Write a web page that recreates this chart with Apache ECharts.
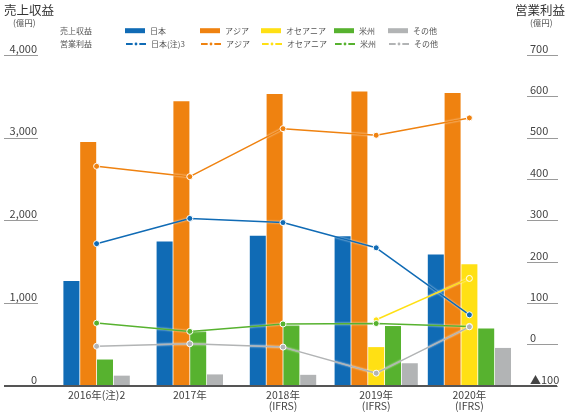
<!DOCTYPE html>
<html>
<head>
<meta charset="utf-8">
<script src="https://cdn.jsdelivr.net/npm/echarts@6/dist/echarts.min.js"></script>
<style>
  html, body { margin: 0; padding: 0; background: #fff; }
  #chart { width: 567px; height: 414px; }
</style>
</head>
<body>
<div id="chart"></div>
<script>
// ===== データ =====
const years = ['2016年(注)2', '2017年', '2018年\n(IFRS)', '2019年\n(IFRS)', '2020年\n(IFRS)'];

// 売上収益（億円）
const japanRev    = [1270, 1745, 1815, 1810, 1590];
const asiaRev     = [2950, 3440, 3530, 3560, 3540];
const oceaniaRev  = [null, null, null, 470, 1470];
const americasRev = [320, 660, 730, 725, 695];
const otherRev    = [125, 140, 135, 275, 460];

// 営業利益（億円）
const japanOp    = [244, 305, 295, 234, 72];
const asiaOp     = [431, 406, 522, 506, 548];
const oceaniaOp  = [null, null, null, 60, 160];
const americasOp = [52, 32, 50, 51, 44];
const otherOp    = [-4, 2, -6, -69, 43];

// 軸目盛り
const revTicks = { min: 0, max: 4000, interval: 1000 };
const opTicks  = { min: -100, max: 700, interval: 100 };

// ===== 色 =====
const C = {
    japan: '#106bb5',
    asia: '#ef8210',
    oceania: '#ffe014',
    americas: '#57b22f',
    other: '#b2b4b5'
};
const FONT = '"Noto Sans CJK JP", "Noto Sans", sans-serif';

// 2016〜2018年は4本、2019〜2020年は5本で中央寄せするため軸を分ける
const firstPart = (arr) => arr.map((v, i) => i < 3 ? v : null);
const lastPart  = (arr) => arr.map((v, i) => i >= 3 ? v : null);

const barBase = { type: 'bar', barWidth: 16, barGap: '5%', yAxisIndex: 0 };

const bar = (name, data, color, axis) => Object.assign({}, barBase, {
    name: name,
    xAxisIndex: axis,
    data: data,
    itemStyle: { color: color }
});

const line = (name, data, color) => ({
    name: name,
    type: 'line',
    xAxisIndex: 0,
    yAxisIndex: 1,
    data: data,
    z: 5,
    symbol: 'circle',
    symbolSize: 6,
    connectNulls: true,
    lineStyle: { color: color, width: 1.5, shadowColor: 'rgba(255,255,255,0.9)', shadowBlur: 2 },
    itemStyle: { color: color, borderColor: '#fff', borderWidth: 1 }
});

const series = [
    bar('日本', firstPart(japanRev), C.japan, 0),
    bar('アジア', firstPart(asiaRev), C.asia, 0),
    bar('米州', firstPart(americasRev), C.americas, 0),
    bar('その他', firstPart(otherRev), C.other, 0),

    bar('日本', lastPart(japanRev), C.japan, 1),
    bar('アジア', lastPart(asiaRev), C.asia, 1),
    bar('オセアニア', lastPart(oceaniaRev), C.oceania, 1),
    bar('米州', lastPart(americasRev), C.americas, 1),
    bar('その他', lastPart(otherRev), C.other, 1),

    line('日本(注)3|op', japanOp, C.japan),
    line('アジア|op', asiaOp, C.asia),
    line('オセアニア|op', oceaniaOp, C.oceania),
    line('米州|op', americasOp, C.americas),
    line('その他|op', otherOp, C.other)
];

// ===== 凡例（列ごと） =====
const legendCols = [125, 200, 261, 334, 388];
const barNames  = ['日本', 'アジア', 'オセアニア', '米州', 'その他'];
const lineNames = ['日本(注)3|op', 'アジア|op', 'オセアニア|op', '米州|op', 'その他|op'];

const legendBase = {
    orient: 'horizontal',
    itemWidth: 20,
    padding: 0,
    textStyle: { fontSize: 8, color: '#555', fontFamily: FONT, lineHeight: 10 },
    formatter: (n) => n.split('|')[0],
    selectedMode: false
};
const legends = [];
legendCols.forEach((x, i) => {
    legends.push(Object.assign({}, legendBase, {
        left: x, top: 25.7, itemHeight: 5,
        data: [{ name: barNames[i], icon: 'rect' }]
    }));
    legends.push(Object.assign({}, legendBase, {
        left: x, top: 39, itemHeight: 6,
        data: [lineNames[i]]
    }));
});

const fmtComma = (v) => String(v).replace(/\B(?=(\d{3})+(?!\d))/g, ',');

const titleText = (text, left, top, size, color) => ({
    text: text, left: left, top: top, padding: 0,
    textStyle: { fontSize: size, fontWeight: 'normal', color: color, fontFamily: FONT, lineHeight: size < 10 ? 10 : 15 }
});

const option = {
    animation: false,
    textStyle: { fontFamily: FONT },
    title: [
        titleText('売上収益', 4, 3, 12.5, '#333'),
        titleText('(億円)', 13, 18, 8.5, '#555'),
        titleText('営業利益', 515, 3, 12.5, '#333'),
        titleText('(億円)', 530, 18, 8.5, '#555'),
        titleText('売上収益', 60, 25.7, 8, '#555'),
        titleText('営業利益', 60, 39, 8, '#555')
    ],
    legend: legends,
    grid: { left: 50, right: 51, top: 55, bottom: 28 },
    xAxis: [
        {
            type: 'category',
            data: years,
            axisLine: { show: false },
            axisTick: { show: false },
            axisLabel: { fontSize: 10.5, color: '#444', margin: 4, lineHeight: 11, fontFamily: FONT }
        },
        {
            type: 'category',
            data: years,
            show: false
        }
    ],
    yAxis: [
        {
            type: 'value',
            position: 'left',
            min: revTicks.min, max: revTicks.max, interval: revTicks.interval,
            offset: 12,
            axisLine: { show: false },
            axisTick: { show: true, length: 34, lineStyle: { color: '#9a9a9a', width: 1 } },
            splitLine: { show: false },
            axisLabel: {
                fontSize: 11, color: '#444', margin: 1, fontFamily: FONT,
                verticalAlign: 'bottom', padding: [0, 0, 1, 0],
                formatter: fmtComma
            }
        },
        {
            type: 'value',
            position: 'right',
            min: opTicks.min, max: opTicks.max, interval: opTicks.interval,
            offset: 11,
            axisLine: { show: false },
            axisTick: { show: true, length: 31, lineStyle: { color: '#9a9a9a', width: 1 } },
            splitLine: { show: false },
            axisLabel: {
                fontSize: 11, color: '#444', margin: 3, fontFamily: FONT,
                verticalAlign: 'bottom', padding: [0, 0, 1, 0],
                formatter: (v) => v < 0 ? '▲' + (-v) : String(v)
            }
        }
    ],
    graphic: [
        // 横軸の基線（目盛り線の端まで伸ばす）
        { type: 'line', z: 100, shape: { x1: 4, y1: 386, x2: 557, y2: 386 }, style: { stroke: '#555', lineWidth: 2 } }
    ],
    series: series
};

const chart = echarts.init(document.getElementById('chart'), null, { renderer: 'canvas' });
chart.setOption(option);
</script>
</body>
</html>
